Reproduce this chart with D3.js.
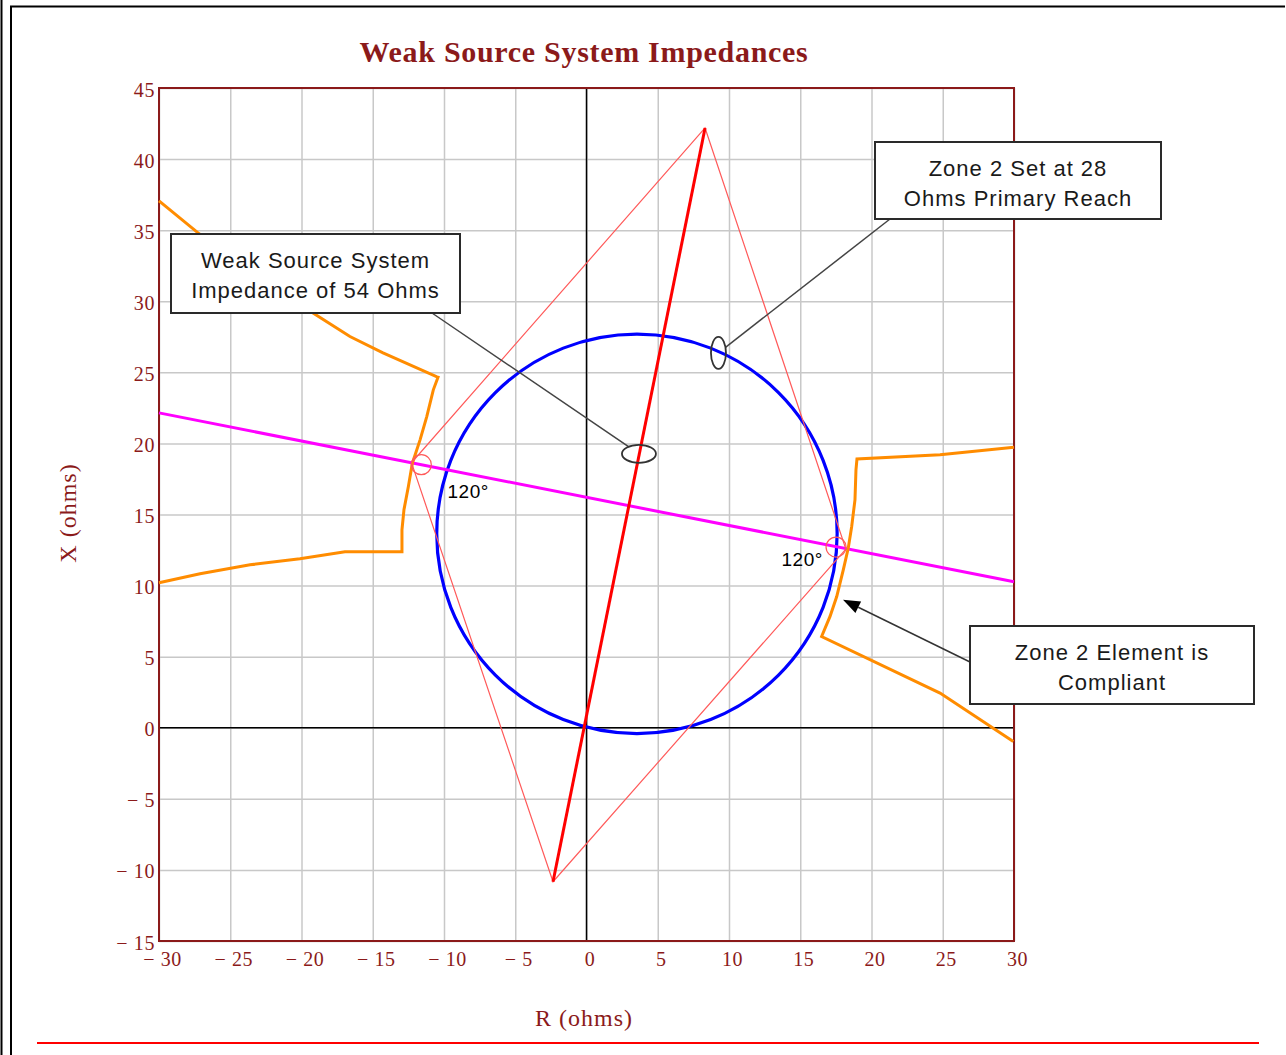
<!DOCTYPE html>
<html>
<head>
<meta charset="utf-8">
<script src="https://cdn.jsdelivr.net/npm/d3@7"></script>
<style>
  html, body { margin: 0; padding: 0; background: #fff; }
  svg { display: block; }
</style>
</head>
<body>
<svg id="chart" width="1286" height="1055"></svg>
<script>
// ---- axis ticks (ohms) ----
const rTicks = [-30, -25, -20, -15, -10, -5, 0, 5, 10, 15, 20, 25, 30];
const xTicks = [-15, -10, -5, 0, 5, 10, 15, 20, 25, 30, 35, 40, 45];

// ---- Zone 2 mho circle: centre (R, X) and radius ----
const mhoCenter = [3.54, 13.64];
const mhoRadius = 14.05;

// ---- Zone 2 reach line (line angle) ----
const reachLine = [[-2.35, -10.83], [8.32, 42.19]];

// ---- lens outline through the 120° points ----
const lensOutline = [[8.32, 42.19], [-12.28, 18.64], [-2.35, -10.83], [18.2, 12.57]];

// ---- weak source system impedance line ----
const sourceLine = [[-30, 22.15], [30, 10.27]];

// ---- load characteristic, left branch ----
const loadLeft = [
  [-30.0, 37.06], [-27.26, 34.81], [-19.19, 29.18], [-16.6, 27.52], [-14.28, 26.37],
  [-10.49, 24.68], [-10.42, 24.66], [-10.75, 23.77], [-11.21, 21.89], [-11.68, 20.25],
  [-12.22, 18.61], [-12.5, 16.97], [-12.81, 15.33], [-12.95, 13.92], [-12.95, 12.38],
  [-16.95, 12.38], [-20.11, 11.88], [-23.61, 11.46], [-27.12, 10.83], [-30.0, 10.2]
];

// ---- load characteristic, right branch ----
const loadRight = [
  [30.0, 19.73], [24.81, 19.2], [18.98, 18.9], [18.91, 18.14], [18.84, 16.03],
  [18.61, 14.16], [18.37, 12.64], [18.02, 11.11], [17.56, 9.23], [17.09, 7.83],
  [16.5, 6.42], [24.81, 2.44], [29.95, -0.96]
];

// ---- angle markers at the lens corners ----
const angleMarks = [
  { vertex: [-12.28, 18.64], label: "120°" },
  { vertex: [18.2, 12.57], label: "120°" }
];

// ---- callouts ----
const noteTexts = [
  ["Weak Source System", "Impedance of 54 Ohms"],
  ["Zone 2 Set at 28", "Ohms Primary Reach"],
  ["Zone 2 Element is", "Compliant"]
];
const noteTargets = [[3.68, 19.27], [9.26, 26.37], [18.0, 9.0]];

const chartTitle = "Weak Source System Impedances";
const rTitle = "R (ohms)";
const xTitle = "X (ohms)";

// ================= drawing =================
const svg = d3.select("#chart");
const plot = { left: 159, right: 1014, top: 88, bottom: 941 };
const DARKRED = "#8b1a1a";
const SERIF = "'Liberation Serif', 'Times New Roman', serif";
const SANS = "'Liberation Sans', Arial, sans-serif";

const x = d3.scaleLinear().domain([-30, 30]).range([plot.left, plot.right]);
const y = d3.scaleLinear().domain([-15, 45]).range([plot.bottom, plot.top]);

// page frame
const frame = svg.append("g");
frame.append("line").attr("x1", 1.5).attr("x2", 1.5).attr("y1", 0).attr("y2", 1055)
  .attr("stroke", "#000").attr("stroke-width", 2);
frame.append("line").attr("x1", 11).attr("x2", 11).attr("y1", 6).attr("y2", 1055)
  .attr("stroke", "#000").attr("stroke-width", 2);
frame.append("line").attr("x1", 10).attr("x2", 1285).attr("y1", 6.5).attr("y2", 6.5)
  .attr("stroke", "#000").attr("stroke-width", 2);
frame.append("line").attr("x1", 37).attr("x2", 1259).attr("y1", 1043).attr("y2", 1043)
  .attr("stroke", "#ff0000").attr("stroke-width", 2);

// grid
const W = plot.right - plot.left, H = plot.bottom - plot.top;
svg.append("g").attr("transform", `translate(0,${plot.bottom})`)
  .call(d3.axisBottom(x).tickValues(rTicks).tickSize(-H).tickFormat(""))
  .call(g => g.select(".domain").remove())
  .call(g => g.selectAll("line").attr("stroke", "#c8c8c8").attr("stroke-width", 1.5));
svg.append("g").attr("transform", `translate(${plot.left},0)`)
  .call(d3.axisLeft(y).tickValues(xTicks).tickSize(-W).tickFormat(""))
  .call(g => g.select(".domain").remove())
  .call(g => g.selectAll("line").attr("stroke", "#c8c8c8").attr("stroke-width", 1.5));

// zero axes
svg.append("line").attr("x1", x(0)).attr("x2", x(0)).attr("y1", plot.top).attr("y2", plot.bottom)
  .attr("stroke", "#000").attr("stroke-width", 1.5);
svg.append("line").attr("x1", plot.left).attr("x2", plot.right).attr("y1", y(0)).attr("y2", y(0))
  .attr("stroke", "#000").attr("stroke-width", 1.5);

// plot border
svg.append("rect").attr("x", plot.left).attr("y", plot.top).attr("width", W).attr("height", H)
  .attr("fill", "none").attr("stroke", DARKRED).attr("stroke-width", 2);

// tick labels
const fmt = d => d < 0 ? "\u2212 " + Math.abs(d) : String(d);
svg.append("g").attr("transform", `translate(0,${plot.bottom})`)
  .call(d3.axisBottom(x).tickValues(rTicks).tickSize(0).tickPadding(11).tickFormat(fmt))
  .call(g => g.select(".domain").remove())
  .call(g => g.selectAll("text").attr("dx", 3).attr("fill", DARKRED)
    .style("font-family", SERIF).style("font-size", "20px").style("letter-spacing", "0.6px"));
svg.append("g").attr("transform", `translate(${plot.left},0)`)
  .call(d3.axisLeft(y).tickValues(xTicks).tickSize(0).tickPadding(4).tickFormat(fmt))
  .call(g => g.select(".domain").remove())
  .call(g => g.selectAll("text").attr("dy", "0.4em").attr("fill", DARKRED)
    .style("font-family", SERIF).style("font-size", "20px").style("letter-spacing", "0.6px"));

// titles
svg.append("text").attr("x", 584).attr("y", 62).attr("text-anchor", "middle")
  .attr("fill", DARKRED).style("font-family", SERIF).style("font-size", "30px")
  .style("font-weight", "bold").style("letter-spacing", "0.7px").text(chartTitle);
svg.append("text").attr("x", 584).attr("y", 1026).attr("text-anchor", "middle")
  .attr("fill", DARKRED).style("font-family", SERIF).style("font-size", "24px")
  .style("letter-spacing", "1px").text(rTitle);
svg.append("text").attr("transform", "translate(76,513) rotate(-90)").attr("text-anchor", "middle")
  .attr("fill", DARKRED).style("font-family", SERIF).style("font-size", "24px")
  .style("letter-spacing", "1px").text(xTitle);

// series
const line = d3.line().x(d => x(d[0])).y(d => y(d[1]));
const marks = svg.append("g");

marks.append("ellipse")
  .attr("cx", x(mhoCenter[0])).attr("cy", y(mhoCenter[1]))
  .attr("rx", x(mhoRadius) - x(0)).attr("ry", y(0) - y(mhoRadius))
  .attr("fill", "none").attr("stroke", "#0000ff").attr("stroke-width", 3.2);

marks.append("path").datum(sourceLine).attr("d", line)
  .attr("fill", "none").attr("stroke", "#ff00ff").attr("stroke-width", 3);

[loadLeft, loadRight].forEach(pts => {
  marks.append("path").datum(pts).attr("d", line)
    .attr("fill", "none").attr("stroke", "#ff8c00").attr("stroke-width", 3)
    .attr("stroke-linejoin", "miter");
});

marks.append("path").datum(lensOutline).attr("d", d => line(d) + "Z")
  .attr("fill", "none").attr("stroke", "#ff5a5a").attr("stroke-width", 1.2);

marks.append("path").datum(reachLine).attr("d", line)
  .attr("fill", "none").attr("stroke", "#ff0000").attr("stroke-width", 3);

// angle markers: small circle set inside the corner on its bisector, plus label
angleMarks.forEach((m, i) => {
  const idx = lensOutline.findIndex(p => p[0] === m.vertex[0] && p[1] === m.vertex[1]);
  const n = lensOutline.length;
  const v = [x(m.vertex[0]), y(m.vertex[1])];
  const a = lensOutline[(idx + n - 1) % n], b = lensOutline[(idx + 1) % n];
  const ua = [x(a[0]) - v[0], y(a[1]) - v[1]], ub = [x(b[0]) - v[0], y(b[1]) - v[1]];
  const la = Math.hypot(...ua), lb = Math.hypot(...ub);
  let bis = [ua[0] / la + ub[0] / lb, ua[1] / la + ub[1] / lb];
  const lbis = Math.hypot(...bis);
  bis = [bis[0] / lbis, bis[1] / lbis];
  const r = 10;
  marks.append("circle").attr("cx", v[0] + bis[0] * r).attr("cy", v[1] + bis[1] * r).attr("r", r)
    .attr("fill", "none").attr("stroke", "#ff5a5a").attr("stroke-width", 1.2);
  const t = marks.append("text").attr("fill", "#000")
    .style("font-family", SANS).style("font-size", "19px").style("letter-spacing", "0.5px")
    .text(m.label);
  if (i === 0) t.attr("x", v[0] + 36).attr("y", v[1] + 35);
  else t.attr("x", v[0] - 23).attr("y", v[1] + 17).attr("text-anchor", "end");
});

// callouts
const boxes = [
  { x: 171, y: 234, w: 289, h: 79, from: [432, 313], mark: "ellipse", rx: 17, ry: 9 },
  { x: 875, y: 142, w: 286, h: 77, from: [890, 219], mark: "ellipse", rx: 7.5, ry: 16 },
  { x: 970, y: 626, w: 284, h: 78, from: [970, 662], mark: "arrow" }
];
const notes = svg.append("g");
boxes.forEach((b, i) => {
  const tx = x(noteTargets[i][0]), ty = y(noteTargets[i][1]);
  if (b.mark === "ellipse") {
    // leader stops at the ellipse outline
    const dx = b.from[0] - tx, dy = b.from[1] - ty;
    const k = 1 / Math.sqrt((dx * dx) / (b.rx * b.rx) + (dy * dy) / (b.ry * b.ry));
    notes.append("line").attr("x1", b.from[0]).attr("y1", b.from[1])
      .attr("x2", tx + dx * k).attr("y2", ty + dy * k)
      .attr("stroke", "#444").attr("stroke-width", 1.5);
    notes.append("ellipse").attr("cx", tx).attr("cy", ty).attr("rx", b.rx).attr("ry", b.ry)
      .attr("fill", "none").attr("stroke", "#333").attr("stroke-width", 1.8);
  } else {
    const dx = tx - b.from[0], dy = ty - b.from[1];
    const L = Math.hypot(dx, dy), ux = dx / L, uy = dy / L;
    const hl = 17, hw = 6.5;
    const bx = tx - ux * hl, by = ty - uy * hl;
    notes.append("line").attr("x1", b.from[0]).attr("y1", b.from[1]).attr("x2", bx).attr("y2", by)
      .attr("stroke", "#333").attr("stroke-width", 1.5);
    notes.append("path")
      .attr("d", `M${tx},${ty}L${bx - uy * hw},${by + ux * hw}L${bx + uy * hw},${by - ux * hw}Z`)
      .attr("fill", "#000");
  }
  notes.append("rect").attr("x", b.x).attr("y", b.y).attr("width", b.w).attr("height", b.h)
    .attr("fill", "#fff").attr("stroke", "#2a2a2a").attr("stroke-width", 2);
  noteTexts[i].forEach((s, j) => {
    notes.append("text").attr("x", b.x + b.w / 2).attr("y", b.y + 34 + j * 29.5)
      .attr("text-anchor", "middle").attr("fill", "#1a1a1a")
      .style("font-family", SANS).style("font-size", "22px").style("letter-spacing", "1px")
      .text(s);
  });
});
</script>
</body>
</html>
